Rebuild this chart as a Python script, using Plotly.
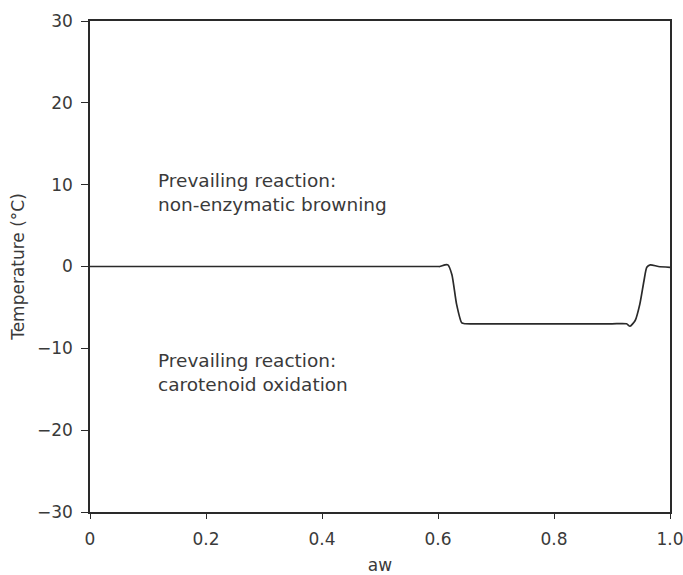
import plotly.graph_objects as go

# Temperature threshold separating the two prevailing degradation reactions
aw = [0.0, 0.60, 0.603, 0.612, 0.617, 0.624, 0.632, 0.641, 0.647, 0.70, 0.80, 0.90,
      0.925, 0.931, 0.940, 0.948, 0.955, 0.960, 0.966, 0.980, 1.0]
temp = [0.0, 0.0, 0.0, 0.2, 0.2, -1.0, -4.6, -6.9, -7.0, -7.0, -7.0, -7.0,
        -7.0, -7.3, -6.6, -4.6, -1.8, -0.1, 0.2, 0.0, -0.1]

x_ticks = [0, 0.2, 0.4, 0.6, 0.8, 1.0]
x_tick_text = ["0", "0.2", "0.4", "0.6", "0.8", "1.0"]
y_ticks = [-30, -20, -10, 0, 10, 20, 30]
y_tick_text = ["\u221230", "\u221220", "\u221210", "0", "10", "20", "30"]

upper_label = "Prevailing reaction:<br>non-enzymatic browning"
lower_label = "Prevailing reaction:<br>carotenoid oxidation"

ink = "#2a2a2a"
text_color = "#3a3a3a"
font_family = "DejaVu Sans, Verdana, sans-serif"

fig = go.Figure()
fig.add_trace(go.Scatter(
    x=aw, y=temp, mode="lines",
    line=dict(color=ink, width=1.7, shape="spline", smoothing=0.6),
    showlegend=False, hoverinfo="skip",
))

fig.add_annotation(x=0.114, y=12.0, xref="x", yref="y", text=upper_label,
                   showarrow=False, xanchor="left", yanchor="top", align="left",
                   font=dict(family=font_family, size=18.5, color=text_color))
fig.add_annotation(x=0.114, y=-10.0, xref="x", yref="y", text=lower_label,
                   showarrow=False, xanchor="left", yanchor="top", align="left",
                   font=dict(family=font_family, size=18.5, color=text_color))

axis_common = dict(
    showgrid=False, zeroline=False, showline=True, linecolor=ink, linewidth=1.5,
    mirror=True, ticks="outside", tickwidth=1.2, tickcolor=ink, automargin=False,
    ticklabeloverflow="allow",
    tickfont=dict(family=font_family, size=17, color=text_color),
)

fig.update_xaxes(range=[0, 1.0], tickvals=x_ticks, ticktext=x_tick_text,
                 ticklen=5, ticklabelstandoff=6,
                 title=dict(text="aw", standoff=15,
                            font=dict(family=font_family, size=17, color=text_color)),
                 **axis_common)
fig.update_yaxes(range=[-30, 30], tickvals=y_ticks, ticktext=y_tick_text,
                 ticklen=7, ticklabelstandoff=5,
                 title=dict(text="Temperature (\u00b0C)", standoff=8,
                            font=dict(family=font_family, size=17, color=text_color)),
                 **axis_common)

fig.update_layout(
    width=683, height=575,
    margin=dict(l=90, r=13, t=21, b=63),
    plot_bgcolor="white", paper_bgcolor="white",
)

fig.write_html("out.html")
